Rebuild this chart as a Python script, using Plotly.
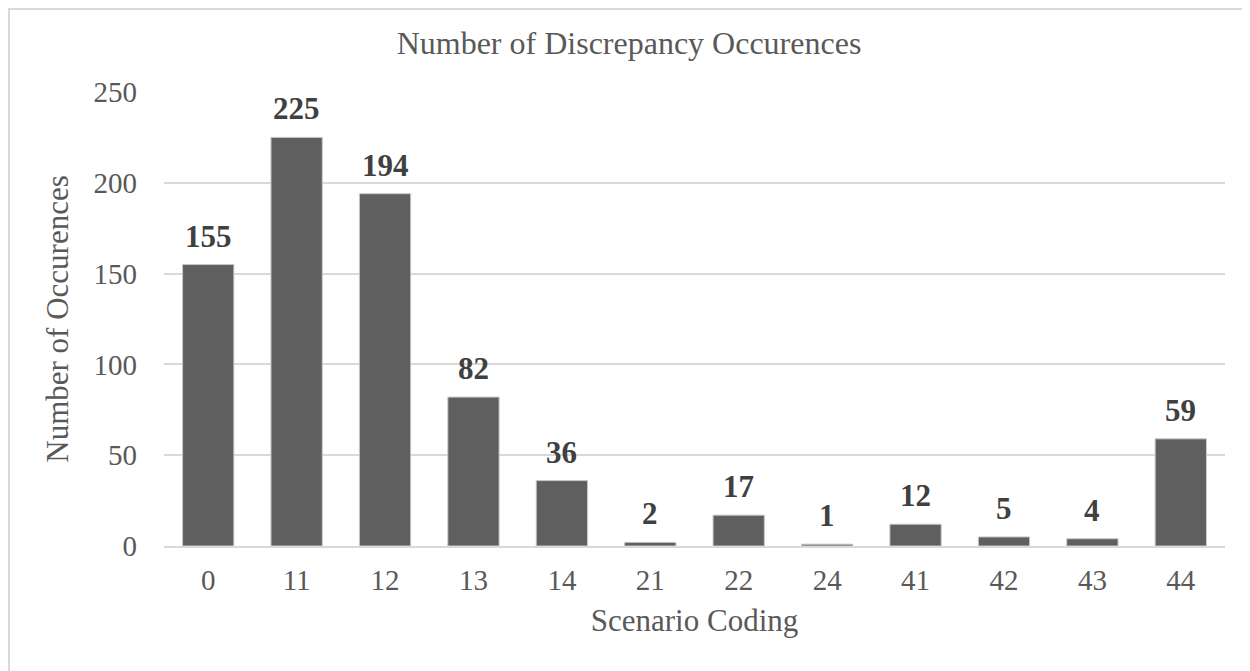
import plotly.graph_objects as go

categories = ["0", "11", "12", "13", "14", "21", "22", "24", "41", "42", "43", "44"]
occurrences = [155, 225, 194, 82, 36, 2, 17, 1, 12, 5, 4, 59]
y_ticks = [0, 50, 100, 150, 200, 250]

FONT = "Liberation Serif"
W, H = 1250, 671
ML, MR, MT, MB = 156, 33, 84, 133

fig = go.Figure()
fig.add_trace(go.Bar(
    x=categories, y=occurrences,
    marker=dict(color="#5f5f5f", line=dict(color="#c8c8c8", width=1)),
    width=0.58,
    hoverinfo="x+y",
))

for i, v in enumerate(occurrences):
    fig.add_annotation(
        x=i, y=v, text=str(v), showarrow=False,
        yanchor="bottom", yshift=9,
        font=dict(family=FONT, size=31, color="#404040", weight="bold"),
    )

pw = W - ML - MR
ph = H - MT - MB
fig.add_shape(
    type="rect", xref="paper", yref="paper",
    x0=(1 - ML) / pw, x1=(1240 - ML) / pw,
    y0=(H - MB - 720) / ph, y1=(H - MB - 1) / ph,
    line=dict(color="#d9d9d9", width=2), fillcolor="rgba(0,0,0,0)",
    layer="below",
)

fig.update_layout(
    width=W, height=H,
    margin=dict(l=ML, r=MR, t=MT, b=MB, autoexpand=False),
    paper_bgcolor="white", plot_bgcolor="white",
    showlegend=False,
    title=dict(text="Number of Discrepancy Occurences", x=621 / W, xref="container",
               xanchor="center", y=1 - 35 / H, yanchor="middle",
               font=dict(family=FONT, size=32, color="#595959")),
    font=dict(family=FONT, color="#595959"),
)
fig.update_xaxes(
    type="category", categoryorder="array", categoryarray=categories,
    range=[-0.5, len(categories) - 0.5], automargin=False,
    showgrid=False, showline=True, linecolor="#d9d9d9", linewidth=2,
    ticks="", tickfont=dict(family=FONT, size=29, color="#595959"),
    ticklabelstandoff=7,
    title=dict(text="Scenario Coding", standoff=15,
               font=dict(family=FONT, size=31, color="#595959")),
)
fig.update_yaxes(
    range=[0, 250], tickvals=y_ticks, showgrid=True, gridcolor="#d9d9d9",
    gridwidth=2, zeroline=False, showline=False, automargin=False,
    ticks="", tickfont=dict(family=FONT, size=29, color="#595959"),
    ticklabelstandoff=26,
    title=dict(text="Number of Occurences", standoff=15,
               font=dict(family=FONT, size=31, color="#595959")),
)

fig.write_html("out.html")
